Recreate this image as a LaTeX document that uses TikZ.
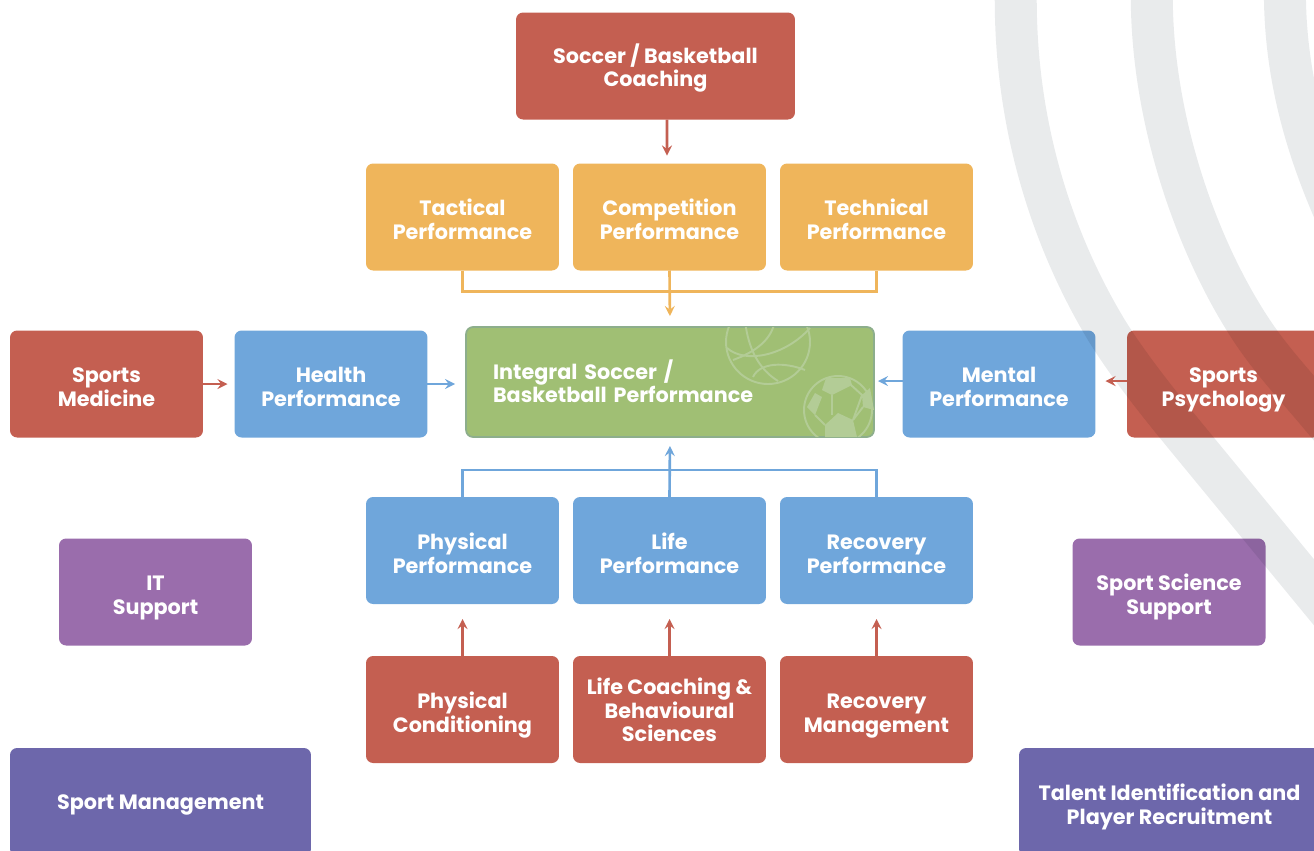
\documentclass[tikz,border=0pt]{standalone}
\usepackage{fontspec}
\setmainfont{Poppins}
\definecolor{boxred}{HTML}{C45F51}
\definecolor{boxyellow}{HTML}{EFB55B}
\definecolor{boxblue}{HTML}{6FA6DB}
\definecolor{boxgreen}{HTML}{A0BF74}
\definecolor{boxedge}{HTML}{8DAE8C}
\definecolor{boxpurple}{HTML}{9A6DAC}
\definecolor{boxindigo}{HTML}{6D67AB}
\definecolor{ballgreen}{HTML}{B3CC96}
\definecolor{bandgrey}{HTML}{E9EBEC}
\tikzset{
  box/.style={rounded corners=4pt, minimum width=3.86cm, minimum height=2.14cm, inner sep=0pt, outer sep=0pt,
    text=white, align=center, font=\fontsize{11.8}{13.4}\selectfont\bfseries, text height=25.6pt, text depth=0pt},
  redbox/.style={box, fill=boxred},
  yellowbox/.style={box, fill=boxyellow},
  bluebox/.style={box, fill=boxblue},
  purplebox/.style={box, fill=boxpurple},
  widebox/.style={box, fill=boxindigo, minimum width=6.02cm, minimum height=2.16cm},
  band/.style={line width=0.84cm, color=bandgrey},
  ballline/.style={color=ballgreen, line width=1.1pt},
}
\begin{document}
\begin{tikzpicture}[x=0.02cm, y=-0.02cm]
    \useasboundingbox (0,0) rectangle (1314,850);
    \node (coaching) at (655.5,66) [redbox, minimum width=5.58cm, text height=23.8pt] {Soccer / Basketball\\Coaching};
    \node (tactical) at (462.5,217) [yellowbox] {Tactical\\Performance};
    \node (competition) at (669.5,217) [yellowbox] {Competition\\Performance};
    \node (technical) at (876.5,217) [yellowbox] {Technical\\Performance};
    \node (medicine) at (106.5,384) [redbox] {Sports\\Medicine};
    \node (health) at (331,384) [bluebox] {Health\\Performance};
    \node (integral) at (670,382) [box, fill=boxgreen, draw=boxedge, line width=1pt, minimum width=8.16cm, minimum height=2.2cm, text width=7.08cm, align=left, text height=0pt, text depth=3.4pt] {Integral Soccer /\\Basketball Performance};
    \node (mental) at (999,384) [bluebox] {Mental\\Performance};
    \node (psychology) at (1223.5,384) [redbox] {};
    \node (physical) at (462.5,550.5) [bluebox] {Physical\\Performance};
    \node (life) at (669.5,550.5) [bluebox] {Life\\Performance};
    \node (recovery) at (876.5,550.5) [bluebox] {Recovery\\Performance};
    \node (conditioning) at (462.5,709.5) [redbox] {Physical\\Conditioning};
    \node (behavioural) at (669.5,709.5) [redbox, text height=36.8pt] {Life Coaching \&\\Behavioural\\Sciences};
    \node (management) at (876.5,709.5) [redbox] {Recovery\\Management};
    \node (itsupport) at (155.5,592) [purplebox] {IT\\Support};
    \node (science) at (1169,592) [purplebox] {Sport Science\\Support};
    \node (sportmgmt) at (160.5,802) [widebox, text height=9pt] {Sport Management};
    \node (talent) at (1169.5,802) [widebox] {Talent Identification and\\Player Recruitment};

    \begin{scope}
    \clip [rounded corners=4pt] (integral.north west) rectangle (integral.south east);
    \draw [ballline] (768,342) circle (0.84cm);
    \draw [ballline] (727,348) .. controls (745,364) and (785,356) .. (810,328);
    \draw [ballline] (745,320) .. controls (748,350) and (760,370) .. (778,381);
    \draw [ballline] (753,377) .. controls (760,362) and (785,362) .. (805,370);
    \draw [ballline] (775,320) .. controls (772,340) and (755,352) .. (733,360);
    \draw [ballline] (838,410) circle (0.68cm);
    \fill [ballgreen] (825,425) -- (838,413) -- (853,420) -- (857,437) -- (825,437) -- cycle;
    \fill [ballgreen] (826,378) -- (850,378) -- (852,385) -- (832,395) -- (822,390) -- cycle;
    \fill [ballgreen] (862,395) -- (870,388) -- (874,410) -- (863,407) -- cycle;
    \fill [ballgreen] (807,407) -- (815,393) -- (822,397) -- (815,415) -- cycle;
    \draw [ballline] (832,395) -- (832,415);
    \draw [ballline] (851,385) -- (862,395) -- (853,420);
    \draw [ballline] (863,407) -- (853,420);
    \draw [ballline] (815,415) -- (825,425);
    \end{scope}

    \begin{scope}[blend mode=multiply]
    \draw [band] (1016,-20) .. controls (1012,120) and (1052,240) .. (1107,331) .. controls (1130,368) and (1160,405) .. (1187,438) -- (1345,630);
    \draw [band] (1152,-20) .. controls (1148,110) and (1195,245) .. (1252,331) .. controls (1270,358) and (1290,380) .. (1314,408) -- (1360,463);
    \draw [band] (1285,-20) .. controls (1283,70) and (1305,150) .. (1345,235);
    \end{scope}

    \node (psychlabel) at (psychology.center) [box, minimum width=0pt, minimum height=0pt] {Sports\\Psychology};

    \draw [->, >=stealth, color=boxred, line width=1.5pt, shorten >=0.16cm] ([xshift=0.23cm]coaching.south) -- ([xshift=-0.05cm]competition.north);
    \draw [color=boxyellow, line width=1.5pt] (tactical.south) -- ++(0,21) -| (technical.south);
    \draw [->, >=stealth, color=boxyellow, line width=1.5pt, shorten >=0.22cm] (competition.south) -- (integral.north);
    \draw [->, >=stealth, color=boxred, line width=1.5pt, shorten >=0.14cm] (medicine.east) -- (health.west);
    \draw [->, >=stealth, color=boxblue, line width=1.5pt, shorten >=0.22cm] (health.east) -- (health.east -| integral.west);
    \draw [->, >=stealth, color=boxblue, line width=1.5pt, shorten >=0.08cm] ([yshift=0.06cm]mental.west) -- ([yshift=0.06cm]mental.west -| integral.east);
    \draw [->, >=stealth, color=boxred, line width=1.5pt, shorten >=0.2cm] ([yshift=0.06cm]psychology.west) -- ([yshift=0.06cm]mental.east);
    \draw [color=boxblue, line width=1.5pt] (physical.north) -- ++(0,-27) -| (recovery.north);
    \draw [->, >=stealth, color=boxblue, line width=1.5pt, shorten >=0.18cm] (life.north) -- (integral.south);
    \draw [->, >=stealth, color=boxred, line width=1.5pt, shorten >=0.3cm] (conditioning.north) -- (physical.south);
    \draw [->, >=stealth, color=boxred, line width=1.5pt, shorten >=0.3cm] (behavioural.north) -- (life.south);
    \draw [->, >=stealth, color=boxred, line width=1.5pt, shorten >=0.3cm] (management.north) -- (recovery.south);
\end{tikzpicture}
\end{document}
